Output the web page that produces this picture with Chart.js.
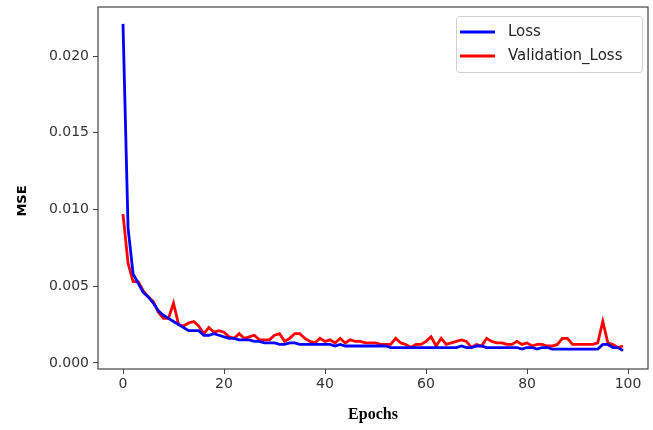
<!DOCTYPE html>
<html>
<head>
<meta charset="utf-8">
<script src="https://cdn.jsdelivr.net/npm/chart.js@4"></script>
<style>
  html, body { margin: 0; padding: 0; background: #fff; }
  #wrap { width: 653px; height: 430px; position: relative; }
</style>
</head>
<body>
<div id="wrap"><canvas id="myChart"></canvas></div>
<script>
// datos (MSE por epoch)
const epochs = Array.from({ length: 100 }, (_, i) => i);

const loss = [
  0.0221, 0.0088, 0.0058, 0.0052, 0.0046, 0.0043, 0.0039, 0.0034, 0.0031, 0.0029,
  0.0027, 0.0025, 0.0023, 0.0021, 0.0021, 0.0021, 0.0018, 0.0018, 0.0019, 0.0018,
  0.0017, 0.0016, 0.0016, 0.0015, 0.0015, 0.0015, 0.0014, 0.0014, 0.0013, 0.0013,
  0.0013, 0.0012, 0.0012, 0.0013, 0.0013, 0.0012, 0.0012, 0.0012, 0.0012, 0.0012,
  0.0012, 0.0012, 0.0011, 0.0012, 0.0011, 0.0011, 0.0011, 0.0011, 0.0011, 0.0011,
  0.0011, 0.0011, 0.0011, 0.0010, 0.0010, 0.0010, 0.0010, 0.0010, 0.0010, 0.0010,
  0.0010, 0.0010, 0.0010, 0.0010, 0.0010, 0.0010, 0.0010, 0.0011, 0.0010, 0.0010,
  0.0011, 0.0011, 0.0010, 0.0010, 0.0010, 0.0010, 0.0010, 0.0010, 0.0010, 0.0009,
  0.0010, 0.0010, 0.0009, 0.0010, 0.0010, 0.0009, 0.0009, 0.0009, 0.0009, 0.0009,
  0.0009, 0.0009, 0.0009, 0.0009, 0.0009, 0.0012, 0.0012, 0.0010, 0.0010, 0.0008
];

const valLoss = [
  0.0097, 0.0065, 0.0053, 0.0053, 0.0047, 0.0043, 0.0040, 0.0033, 0.0029, 0.0029,
  0.0039, 0.0025, 0.0024, 0.0026, 0.0027, 0.0024, 0.0019, 0.0023, 0.0020, 0.0021,
  0.0020, 0.0017, 0.0016, 0.0019, 0.0016, 0.0017, 0.0018, 0.0015, 0.0015, 0.0015,
  0.0018, 0.0019, 0.0014, 0.0016, 0.0019, 0.0019, 0.0016, 0.0014, 0.0013, 0.0016,
  0.0014, 0.0015, 0.0013, 0.0016, 0.0013, 0.0015, 0.0014, 0.0014, 0.0013, 0.0013,
  0.0013, 0.0012, 0.0012, 0.0012, 0.0016, 0.0013, 0.0012, 0.0010, 0.0012, 0.0012,
  0.0014, 0.0017, 0.0011, 0.0016, 0.0012, 0.0013, 0.0014, 0.0015, 0.0014, 0.0010,
  0.0012, 0.0011, 0.0016, 0.0014, 0.0013, 0.0013, 0.0012, 0.0012, 0.0014, 0.0012,
  0.0013, 0.0011, 0.0012, 0.0012, 0.0011, 0.0011, 0.0012, 0.0016, 0.0016, 0.0012,
  0.0012, 0.0012, 0.0012, 0.0012, 0.0013, 0.0027, 0.0013, 0.0012, 0.0010, 0.0011
];

const xTicks = [0, 20, 40, 60, 80, 100];
const yTicks = [0, 0.005, 0.010, 0.015, 0.020];

const seriesNames = ["Loss", "Validation_Loss"];
const seriesColors = ["#0000ff", "#ff0000"];
const yTitle = "MSE";

// marco completo, titulo del eje y y leyenda estilo matplotlib
const framePlugin = {
  id: "frame",
  afterDraw(chart) {
    const { ctx, chartArea: a } = chart;
    ctx.save();
    ctx.strokeStyle = "#444";
    ctx.lineWidth = 1.2;
    ctx.strokeRect(a.left, a.top, a.right - a.left, a.bottom - a.top);

    // titulo del eje y (un poco por debajo del centro, como en la figura)
    ctx.save();
    ctx.translate(23, 201);
    ctx.rotate(-Math.PI / 2);
    ctx.font = "bold 13px 'DejaVu Sans'";
    ctx.fillStyle = "#000";
    ctx.textAlign = "center";
    ctx.textBaseline = "middle";
    ctx.fillText(yTitle, 0, 0);
    ctx.restore();

    // leyenda
    const bx = 456, by = 16, bw = 186, bh = 56;
    ctx.fillStyle = "rgba(255,255,255,0.9)";
    ctx.strokeStyle = "#d0d0d0";
    ctx.lineWidth = 1;
    ctx.beginPath();
    ctx.roundRect(bx + 0.5, by + 0.5, bw, bh, 3);
    ctx.fill();
    ctx.stroke();
    ctx.font = "15px 'DejaVu Sans'";
    ctx.textBaseline = "middle";
    chart.data.datasets.forEach((ds, i) => {
      const y = by + 16 + i * 24;
      ctx.strokeStyle = ds.borderColor;
      ctx.lineWidth = 2.8;
      ctx.beginPath();
      ctx.moveTo(bx + 4, y);
      ctx.lineTo(bx + 39, y);
      ctx.stroke();
      ctx.fillStyle = "#262626";
      ctx.fillText(ds.label, bx + 52, y);
    });
    ctx.restore();
  }
};

let grafico = document.getElementById("myChart").getContext("2d");

let myChart = new Chart(grafico, {
  type: "line",
  data: {
    labels: epochs,
    datasets: [
      {
        label: seriesNames[0],
        data: loss,
        borderColor: seriesColors[0],
        borderWidth: 2.8,
        pointRadius: 0,
        tension: 0
      },
      {
        label: seriesNames[1],
        data: valLoss,
        borderColor: seriesColors[1],
        borderWidth: 2.8,
        pointRadius: 0,
        tension: 0
      }
    ]
  },
  options: {
    responsive: true,
    maintainAspectRatio: false,
    animation: false,
    layout: { padding: { left: 0, right: 5, top: 7, bottom: 0 } },
    plugins: {
      legend: { display: false },
      tooltip: { enabled: false }
    },
    scales: {
      x: {
        type: "linear",
        min: -4.95,
        max: 103.95,
        afterBuildTicks: (s) => { s.ticks = xTicks.map(v => ({ value: v })); },
        afterFit: (s) => { s.height = 61; s.paddingLeft = 0; s.paddingRight = 0; },
        grid: { drawOnChartArea: false, drawTicks: true, tickLength: 5, color: "#444" },
        border: { display: false },
        ticks: { color: "#333", font: { family: "DejaVu Sans", size: 14 }, padding: 2, maxRotation: 0 },
        title: {
          display: true,
          text: "Epochs",
          color: "#000",
          font: { family: "Liberation Serif", size: 16, weight: "bold" },
          padding: { top: 4, bottom: 6 }
        }
      },
      y: {
        type: "linear",
        min: -0.0004,
        max: 0.0232,
        afterBuildTicks: (s) => { s.ticks = yTicks.map(v => ({ value: v })); },
        afterFit: (s) => { s.width = 98; s.paddingTop = 0; s.paddingBottom = 0; },
        grid: { drawOnChartArea: false, drawTicks: true, tickLength: 5, color: "#444" },
        border: { display: false },
        ticks: {
          color: "#333",
          font: { family: "DejaVu Sans", size: 14 },
          padding: 4,
          callback: (v) => v.toFixed(3)
        },
        title: { display: false }
      }
    }
  },
  plugins: [framePlugin]
});
</script>
</body>
</html>
